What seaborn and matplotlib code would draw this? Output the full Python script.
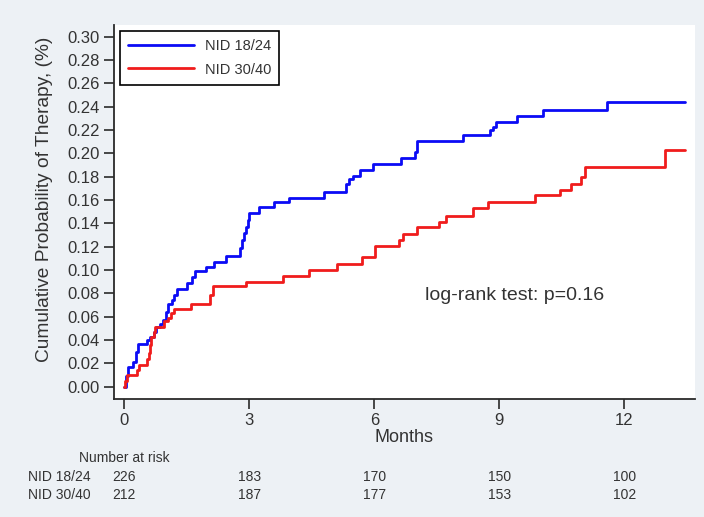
import matplotlib
matplotlib.use("Agg")
import matplotlib.pyplot as plt
import seaborn as sns
import pandas as pd
from matplotlib.lines import Line2D

# ---- data ----
groups = ["NID 18/24", "NID 30/40"]

blue_months = [0.0, 0.03, 0.08, 0.20, 0.28, 0.32, 0.55, 0.62, 0.70, 0.77, 0.85, 0.93,
               1.00, 1.05, 1.14, 1.20, 1.26, 1.50, 1.62, 1.70, 1.97, 2.15, 2.45, 2.78,
               2.82, 2.87, 2.92, 2.96, 3.00, 3.22, 3.58, 3.96, 4.80, 5.33, 5.40, 5.48,
               5.65, 5.98, 6.64, 6.98, 7.02, 8.12, 8.78, 8.85, 8.93, 9.42, 10.05, 11.58,
               13.47]
blue_prob = [0.000, 0.009, 0.017, 0.021, 0.030, 0.037, 0.040, 0.043, 0.047, 0.051, 0.054, 0.057,
             0.064, 0.071, 0.074, 0.079, 0.084, 0.089, 0.094, 0.099, 0.103, 0.107, 0.112, 0.119,
             0.126, 0.132, 0.137, 0.143, 0.149, 0.154, 0.158, 0.162, 0.167, 0.174, 0.178, 0.181,
             0.186, 0.191, 0.196, 0.201, 0.211, 0.216, 0.220, 0.223, 0.227, 0.232, 0.237, 0.244,
             0.244]

red_months = [0.0, 0.02, 0.06, 0.30, 0.36, 0.55, 0.58, 0.62, 0.65, 0.70, 0.73, 0.95,
              1.05, 1.12, 1.18, 1.60, 2.05, 2.13, 2.93, 3.80, 4.44, 5.10, 5.70, 6.02,
              6.60, 6.68, 7.02, 7.56, 7.72, 8.38, 8.72, 9.85, 10.47, 10.73, 10.97, 11.05,
              12.98, 13.47]
red_prob = [0.000, 0.005, 0.010, 0.014, 0.019, 0.024, 0.029, 0.036, 0.043, 0.047, 0.051, 0.056,
            0.059, 0.063, 0.067, 0.071, 0.079, 0.086, 0.090, 0.095, 0.100, 0.105, 0.111, 0.121,
            0.126, 0.131, 0.137, 0.141, 0.146, 0.153, 0.158, 0.164, 0.169, 0.174, 0.180, 0.188,
            0.203, 0.203]

xticks = [0, 3, 6, 9, 12]
yticks = [0.00, 0.02, 0.04, 0.06, 0.08, 0.10, 0.12, 0.14, 0.16, 0.18, 0.20, 0.22, 0.24, 0.26, 0.28, 0.30]
risk_1824 = [226, 183, 170, 150, 100]
risk_3040 = [212, 187, 177, 153, 102]
colors = ["#0b0bf5", "#f01c1c"]

# ---- build the frame ----
df = pd.concat([
    pd.DataFrame({"Months": blue_months, "Prob": blue_prob, "Group": groups[0]}),
    pd.DataFrame({"Months": red_months, "Prob": red_prob, "Group": groups[1]}),
], ignore_index=True)

sns.set_style("ticks")
plt.rcParams["font.family"] = ["Liberation Sans", "DejaVu Sans"]

W, H = 704, 517
fig = plt.figure(figsize=(W / 100, H / 100), dpi=100, facecolor="#edf1f5")
ax_l, ax_r, ax_t, ax_b = 114, 695, 25, 399
ax = fig.add_axes([ax_l / W, 1 - ax_b / H, (ax_r - ax_l) / W, (ax_b - ax_t) / H])
ax.set_facecolor("white")

sns.lineplot(data=df, x="Months", y="Prob", hue="Group", palette=colors,
             estimator=None, sort=False, drawstyle="steps-post", linewidth=2.0,
             legend=False, ax=ax)

ax.set_xlim(-0.25, 13.7)
ax.set_ylim(-0.0105, 0.31)
ax.set_xticks(xticks)
ax.set_xticklabels([str(t) for t in xticks])
ax.set_yticks(yticks)
ax.set_yticklabels([f"{v:.2f}" for v in yticks])

for s in ["top", "right"]:
    ax.spines[s].set_visible(False)
for s in ["left", "bottom"]:
    ax.spines[s].set_color("#2a2a2a")
    ax.spines[s].set_linewidth(1.3)

ax.tick_params(axis="both", direction="out", length=7, width=1.2, color="#2a2a2a",
               labelsize=12, labelcolor="#333333")
ax.tick_params(axis="y", pad=3)
ax.tick_params(axis="x", pad=3)

ax.set_xlabel("Months", fontsize=13, color="#333333", labelpad=1)
ax.set_ylabel("Cumulative Probability of Therapy, (%)", fontsize=13.8, color="#333333")
ax.yaxis.set_label_coords(-0.105, 0.535)

handles = [Line2D([0], [0], color=c, lw=2.0) for c in colors]
leg = ax.legend(handles, groups, loc="upper left", bbox_to_anchor=(6 / 581, 1 - 6 / 374),
                frameon=True, fancybox=False, edgecolor="black", framealpha=1,
                fontsize=10.5, handlelength=4.5, handletextpad=0.75,
                labelspacing=0.65, borderpad=0.55, borderaxespad=0)
leg.get_frame().set_linewidth(1.2)
for t in leg.get_texts():
    t.set_color("#333333")

ax.text(7.22, 0.0786, "log-rank test: p=0.16", fontsize=14, color="#333333",
        ha="left", va="center")

# ---- number at risk table ----
fs = 10
fig.text(124 / W, 1 - 458 / H, "Number at risk", fontsize=fs, color="#333333",
         ha="center", va="center")
fig.text(28 / W, 1 - 477 / H, groups[0], fontsize=fs, color="#333333", ha="left", va="center")
fig.text(28 / W, 1 - 495 / H, groups[1], fontsize=fs, color="#333333", ha="left", va="center")
for xt, a, b in zip(xticks, risk_1824, risk_3040):
    ax.annotate(str(a), xy=(xt, 0), xycoords=("data", "figure fraction"),
                xytext=(xt, 1 - 477 / H), textcoords=("data", "figure fraction"),
                fontsize=fs, color="#333333", ha="center", va="center", annotation_clip=False)
    ax.annotate(str(b), xy=(xt, 0), xycoords=("data", "figure fraction"),
                xytext=(xt, 1 - 495 / H), textcoords=("data", "figure fraction"),
                fontsize=fs, color="#333333", ha="center", va="center", annotation_clip=False)

fig.savefig("out.png", dpi=100, facecolor=fig.get_facecolor())
